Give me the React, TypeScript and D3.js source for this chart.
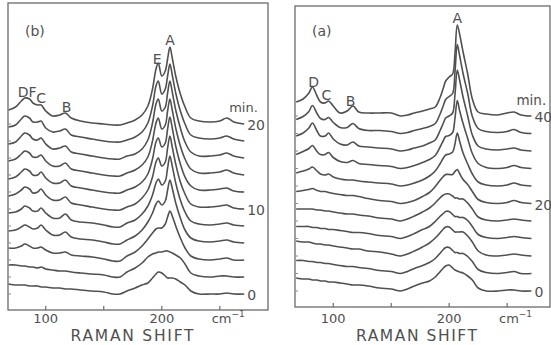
import React from "react";
import * as d3 from "d3";

const W = 551;
const H = 345;

// Raman shift grid (cm-1) shared by every trace
const shifts = [68, 74, 79, 82, 86, 89, 93, 96, 100, 106, 112, 117, 122, 130, 140, 150, 158, 164, 170, 177,
  183, 188, 192, 195, 197, 200, 203, 205, 207, 209, 212, 216, 220, 225, 232, 242, 250, 256, 262, 271];

// panel (b): 0..20 min, intensity above each trace's own baseline
const minutesB = [0, 2, 4, 6, 8, 10, 12, 14, 16, 18, 20];
const spectraB = [
  [10, 9, 9, 9, 8, 8, 8, 7, 7, 6, 6, 5, 5, 4, 3, 2, 0, 0, 3, 6, 9, 11, 16, 20, 22, 21, 18, 16, 16, 16, 15, 12, 9, 3, 0, 0, 0, 1, 0, 0],
  [12, 12, 11, 11, 10, 10, 9, 10, 8, 7, 6, 6, 5, 4, 3, 2, 0, 0, 5, 9, 14, 20, 23, 24, 25, 25, 26, 26, 25, 24, 22, 19, 13, 4, 1, 0, 1, 1, 0, 0],
  [12, 12, 14, 16, 14, 12, 12, 13, 10, 7, 7, 8, 5, 4, 3, 1, -1, -1, 4, 8, 14, 21, 27, 31, 32, 32, 36, 43, 49, 44, 34, 22, 12, 4, 1, 0, 1, 2, 0, 0],
  [12, 13, 16, 18, 16, 14, 15, 18, 13, 8, 8, 11, 6, 4, 3, 1, -1, -1, 3, 7, 13, 21, 30, 39, 42, 38, 42, 53, 63, 55, 40, 25, 13, 5, 2, 1, 2, 3, 1, 0],
  [13, 14, 17, 20, 18, 15, 15, 18, 13, 8, 8, 12, 6, 4, 3, 1, -1, -1, 3, 6, 12, 20, 31, 43, 47, 41, 45, 58, 70, 60, 43, 26, 14, 5, 2, 1, 2, 3, 1, 0],
  [13, 15, 19, 22, 20, 16, 17, 20, 14, 9, 9, 12, 6, 4, 2, 0, -1, -1, 2, 5, 11, 19, 32, 47, 51, 43, 47, 61, 73, 62, 45, 27, 15, 5, 2, 2, 3, 4, 1, 0],
  [13, 15, 20, 23, 21, 17, 17, 20, 14, 9, 9, 12, 6, 4, 2, 0, -1, -1, 2, 5, 10, 18, 33, 50, 54, 45, 49, 63, 75, 64, 46, 28, 15, 6, 2, 2, 3, 4, 1, 0],
  [14, 16, 21, 24, 22, 18, 18, 20, 14, 9, 9, 12, 6, 4, 2, 0, -1, -1, 2, 5, 10, 18, 34, 52, 57, 46, 50, 64, 76, 65, 47, 29, 16, 6, 2, 2, 3, 5, 2, 0],
  [14, 16, 22, 25, 23, 19, 18, 20, 14, 9, 10, 12, 6, 4, 2, 0, -1, -1, 2, 4, 9, 18, 35, 54, 59, 47, 51, 65, 77, 66, 48, 30, 16, 6, 2, 2, 3, 5, 2, 0],
  [14, 16, 22, 25, 23, 19, 19, 20, 13, 9, 10, 12, 6, 4, 2, 0, -1, -1, 1, 4, 9, 18, 35, 55, 60, 47, 52, 65, 77, 66, 48, 30, 17, 6, 3, 2, 3, 5, 2, 0],
  [14, 17, 23, 26, 25, 21, 19, 19, 13, 8, 9, 11, 6, 3, 1, 0, -1, -1, 1, 4, 9, 18, 35, 55, 61, 48, 53, 65, 77, 66, 48, 30, 17, 6, 3, 2, 3, 6, 2, 0],
];
const labeledB = [0, 10, 20];
const peakNamesB = ["DF", "C", "B", "E", "A"];
const peakShiftsB = [84, 96, 118, 196, 207];

// panel (a): 0..40 min
const minutesA = [0, 4, 8, 12, 16, 20, 24, 28, 32, 36, 40];
const spectraA = [
  [13, 12, 12, 11, 11, 10, 10, 9, 9, 8, 7, 6, 6, 5, 3, 2, 0, 2, 5, 8, 10, 14, 19, 23, 25, 26, 23, 21, 20, 19, 18, 15, 11, 3, 0, 0, 1, 1, 0, 0],
  [13, 13, 12, 12, 11, 11, 10, 10, 9, 8, 7, 7, 6, 5, 3, 2, 0, 2, 5, 8, 11, 15, 20, 24, 26, 26, 23, 21, 21, 20, 20, 17, 12, 4, 1, 0, 1, 2, 0, 0],
  [15, 14, 14, 13, 12, 12, 11, 11, 10, 9, 8, 7, 7, 5, 4, 2, 0, 2, 5, 9, 13, 18, 23, 27, 29, 29, 26, 24, 24, 24, 24, 20, 14, 5, 1, 0, 1, 2, 1, 0],
  [12, 12, 12, 11, 11, 10, 10, 9, 9, 8, 7, 6, 6, 5, 3, 2, 0, 2, 5, 9, 12, 17, 22, 25, 27, 27, 24, 22, 22, 21, 21, 18, 12, 4, 1, 0, 1, 2, 1, 0],
  [12, 12, 12, 12, 11, 11, 10, 10, 9, 8, 7, 7, 6, 5, 3, 2, 0, 2, 5, 9, 13, 18, 23, 26, 27, 27, 25, 23, 23, 22, 22, 18, 12, 4, 1, 0, 1, 2, 1, 0],
  [12, 13, 14, 15, 13, 12, 12, 11, 10, 9, 8, 8, 7, 5, 3, 2, 0, 1, 3, 7, 11, 17, 23, 27, 29, 29, 29, 32, 34, 30, 24, 19, 12, 4, 1, 0, 1, 3, 1, 0],
  [13, 15, 17, 19, 15, 12, 11, 12, 9, 7, 6, 6, 5, 4, 3, 2, 0, 1, 3, 6, 10, 15, 22, 28, 31, 32, 34, 42, 53, 45, 33, 22, 12, 4, 1, 0, 1, 3, 1, 0],
  [14, 17, 20, 23, 17, 14, 14, 16, 11, 7, 6, 8, 5, 4, 3, 2, 0, 1, 3, 6, 9, 13, 21, 28, 32, 33, 36, 50, 68, 58, 45, 30, 15, 5, 1, 0, 1, 3, 1, 0],
  [15, 18, 23, 28, 20, 15, 15, 18, 12, 7, 6, 9, 5, 4, 3, 2, 0, 1, 3, 5, 8, 11, 20, 28, 33, 35, 38, 56, 81, 71, 54, 35, 16, 5, 2, 1, 2, 3, 1, 0],
  [14, 17, 22, 28, 20, 15, 14, 16, 11, 6, 6, 10, 5, 3, 3, 2, 0, 1, 3, 5, 7, 10, 19, 28, 34, 37, 40, 61, 89, 78, 60, 40, 17, 5, 2, 1, 2, 4, 1, 0],
  [14, 17, 23, 29, 20, 14, 13, 15, 10, 3, 5, 10, 4, 3, 3, 3, 0, 1, 3, 5, 7, 9, 18, 28, 35, 39, 42, 62, 91, 82, 64, 42, 17, 4, 2, 1, 3, 4, 1, 0],
];
const labeledA = [0, 20, 40];
const peakNamesA = ["D", "C", "B", "A"];
const peakShiftsA = [83, 94, 115, 207];

const xTicks = [100, 150, 200, 250];
const xTickLabels = [100, 200];

const INK = "#505050";
const FONT = "DejaVu Sans, sans-serif";

type PanelProps = {
  tag: string;
  minutes: number[];
  spectra: number[][];
  labeled: number[];
  peakNames: string[];
  peakShifts: number[];
  box: { left: number; right: number; top: number; bottom: number };
  domain: [number, number];
  y0: number;
  step: number;
  minY: number;
  minSize: number;
  titleWidth: number;
};

function Panel(p: PanelProps) {
  const x = d3.scaleLinear().domain(p.domain).range([p.box.left, p.box.right]);
  const y = d3.scaleLinear().domain([0, 100]).range([p.y0, p.y0 - 100]);
  const top = p.spectra.length - 1;
  const valueAt = (s: number[], v: number) => {
    const j = d3.bisectLeft(shifts, v);
    if (j <= 0) return s[0];
    if (j >= shifts.length) return s[s.length - 1];
    const t = (v - shifts[j - 1]) / (shifts[j] - shifts[j - 1]);
    return s[j - 1] + t * (s[j] - s[j - 1]);
  };
  const lastShift = shifts[shifts.length - 1];
  const midX = (p.box.left + p.box.right) / 2 - 6;

  return (
    <g>
      <rect x={p.box.left} y={p.box.top} width={p.box.right - p.box.left} height={p.box.bottom - p.box.top}
        fill="none" stroke="#6a6a6a" strokeWidth={1.3} />
      {xTicks.map((t) => (
        <line key={t} x1={x(t)} x2={x(t)} y1={p.box.bottom} y2={p.box.bottom - 4} stroke="#6a6a6a" strokeWidth={1.2} />
      ))}
      {p.minutes.map((_, i) => (
        <line key={i} x1={p.box.left} x2={p.box.left + 3} y1={y(i * p.step)} y2={y(i * p.step)} stroke="#8a8a8a" strokeWidth={1} />
      ))}
      {p.spectra.map((s, i) => {
        const line = d3.line<number>()
          .x((_, j) => x(shifts[j]))
          .y((v) => y(v + i * p.step))
          .curve(d3.curveCatmullRom.alpha(0.5));
        return <path key={i} d={line(s) || ""} fill="none" stroke={INK} strokeWidth={1.6} strokeLinejoin="round" />;
      })}
      {p.minutes.map((m, i) =>
        p.labeled.includes(m) ? (
          <text key={m} x={x(lastShift) + 3} y={y(i * p.step) + 6} fontSize={14} fill={INK} fontFamily={FONT}>{m}</text>
        ) : null
      )}
      <text x={x(lastShift) - 15} y={p.minY} fontSize={p.minSize} fill={INK} fontFamily={FONT}>min.</text>
      {p.peakNames.map((n, k) => (
        <text key={n} x={x(p.peakShifts[k])} y={y(valueAt(p.spectra[top], p.peakShifts[k]) + top * p.step) - 2}
          textAnchor="middle" fontSize={14} fill={INK} fontFamily={FONT}>{n}</text>
      ))}
      <text x={p.box.left + 17} y={36} fontSize={14} fill={INK} fontFamily={FONT}>{p.tag}</text>
      {xTickLabels.map((t) => (
        <text key={t} x={x(t)} y={323} textAnchor="middle" fontSize={13} fill={INK} fontFamily={FONT}>{t}</text>
      ))}
      <text x={x(243)} y={323} fontSize={13} fill={INK} fontFamily={FONT}>
        cm<tspan dy={-6} fontSize={9}>−1</tspan>
      </text>
      <text x={midX} y={341} textAnchor="middle" fontSize={15.5} fill={INK} fontFamily={FONT}
        textLength={p.titleWidth} lengthAdjust="spacing">RAMAN SHIFT</text>
    </g>
  );
}

export default function App() {
  return (
    <svg width={W} height={H} style={{ position: "absolute", left: 0, top: 0, background: "#fff" }}>
      <Panel tag="(b)" minutes={minutesB} spectra={spectraB} labeled={labeledB}
        peakNames={peakNamesB} peakShifts={peakShiftsB}
        box={{ left: 8, right: 268, top: 3, bottom: 310 }} domain={[67.5, 291.5]}
        y0={294} step={17} minY={112} minSize={13} titleWidth={123} />
      <Panel tag="(a)" minutes={minutesA} spectra={spectraA} labeled={labeledA}
        peakNames={peakNamesA} peakShifts={peakShiftsA}
        box={{ left: 295, right: 550, top: 6, bottom: 307 }} domain={[67, 287]}
        y0={291} step={17.5} minY={105} minSize={13.5} titleWidth={121} />
    </svg>
  );
}
